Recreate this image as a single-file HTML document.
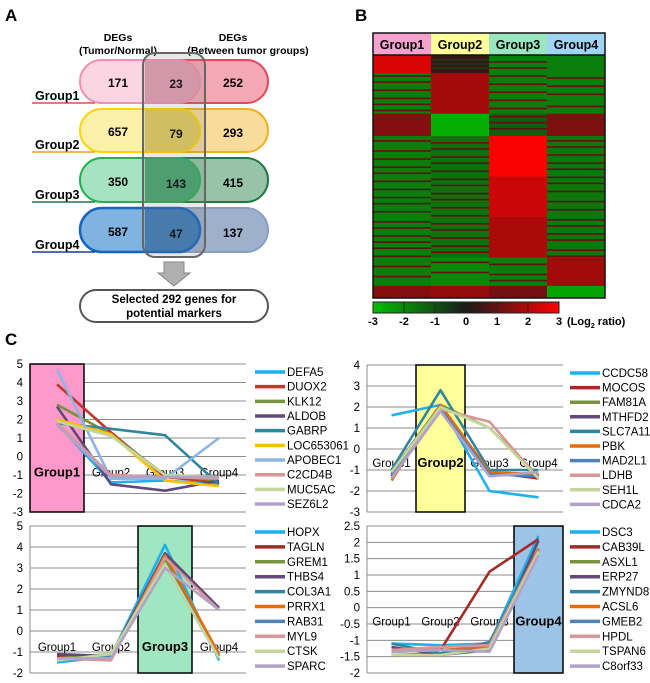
<!DOCTYPE html>
<html><head><meta charset="utf-8"><style>
body{margin:0;background:#fff;width:650px;height:683px;overflow:hidden;font-family:"Liberation Sans",Arial,sans-serif}
svg{position:absolute;left:0;top:0}
text{font-family:"Liberation Sans",Arial,sans-serif}
</style></head><body>
<svg id="fig" width="650" height="683" viewBox="0 0 650 683" xmlns="http://www.w3.org/2000/svg">
<defs>
<linearGradient id="cbar" x1="0" x2="1" y1="0" y2="0">
<stop offset="0" stop-color="#00c000"/><stop offset="0.5" stop-color="#1a1a1a"/><stop offset="1" stop-color="#ff0000"/>
</linearGradient>
<clipPath id="cl1"><rect x="80" y="60" width="120" height="43" rx="21.5"/></clipPath>
<clipPath id="cl2"><rect x="80" y="109" width="120" height="43" rx="21.5"/></clipPath>
<clipPath id="cl3"><rect x="80" y="158" width="120" height="44" rx="22"/></clipPath>
<clipPath id="cl4"><rect x="80" y="208" width="120" height="44" rx="22"/></clipPath>
</defs>
<!-- Panel A -->
<g>
<text x="5" y="21" font-size="17" font-weight="bold">A</text>
<text x="118" y="41" font-size="10.5" font-weight="bold" text-anchor="middle">DEGs</text>
<text x="118" y="54" font-size="10.5" font-weight="bold" text-anchor="middle">(Tumor/Normal)</text>
<text x="233" y="41" font-size="10.5" font-weight="bold" text-anchor="middle">DEGs</text>
<text x="248" y="54" font-size="10.5" font-weight="bold" text-anchor="middle">(Between tumor groups)</text>

<g>
<rect x="145" y="60" width="123" height="43" rx="21.5" fill="#f4a9b5" stroke="#e8485a" stroke-width="2"/>
<rect x="80" y="60" width="120" height="43" rx="21.5" fill="#fbd5e2"/>
<rect x="145" y="58" width="60" height="50" fill="#e59db3" clip-path="url(#cl1)"/>
<rect x="80" y="60" width="120" height="43" rx="21.5" fill="none" stroke="#f48fb1" stroke-width="2"/>
<line x1="32" y1="103" x2="95" y2="103" stroke="#e8485a" stroke-width="1.5"/>
<text x="35" y="100" font-size="12.5" font-weight="bold">Group1</text>
<text x="118" y="87" font-size="12" font-weight="bold" text-anchor="middle">171</text>
<text x="176" y="88" font-size="12" font-weight="bold" text-anchor="middle">23</text>
<text x="233" y="87" font-size="12" font-weight="bold" text-anchor="middle">252</text>
</g>
<g>
<rect x="145" y="109" width="123" height="43" rx="21.5" fill="#f8dc9c" stroke="#f0b020" stroke-width="2"/>
<rect x="80" y="109" width="120" height="43" rx="21.5" fill="#fdf0a8"/>
<rect x="145" y="107" width="60" height="50" fill="#e3cc5c" clip-path="url(#cl2)"/>
<rect x="80" y="109" width="120" height="43" rx="21.5" fill="none" stroke="#ffd400" stroke-width="2"/>
<line x1="32" y1="152" x2="95" y2="152" stroke="#f0a020" stroke-width="1.5"/>
<text x="35" y="149" font-size="12.5" font-weight="bold">Group2</text>
<text x="118" y="136" font-size="12" font-weight="bold" text-anchor="middle">657</text>
<text x="176" y="138" font-size="12" font-weight="bold" text-anchor="middle">79</text>
<text x="233" y="137" font-size="12" font-weight="bold" text-anchor="middle">293</text>
</g>
<g>
<rect x="145" y="158" width="123" height="44" rx="22" fill="#97c4a6" stroke="#1e7a44" stroke-width="2"/>
<rect x="80" y="158" width="120" height="44" rx="22" fill="#a6e3c0"/>
<rect x="145" y="156" width="60" height="50" fill="#45a56e" clip-path="url(#cl3)"/>
<rect x="80" y="158" width="120" height="44" rx="22" fill="none" stroke="#22b14c" stroke-width="2"/>
<line x1="32" y1="202" x2="95" y2="202" stroke="#1e7a44" stroke-width="1.5"/>
<text x="35" y="199" font-size="12.5" font-weight="bold">Group3</text>
<text x="118" y="186" font-size="12" font-weight="bold" text-anchor="middle">350</text>
<text x="176" y="188" font-size="12" font-weight="bold" text-anchor="middle">143</text>
<text x="233" y="187" font-size="12" font-weight="bold" text-anchor="middle">415</text>
</g>
<g>
<rect x="145" y="208" width="123" height="44" rx="22" fill="#9fb0cc" stroke="#8aa0c0" stroke-width="2"/>
<rect x="80" y="208" width="120" height="44" rx="22" fill="#7fb3e0"/>
<rect x="145" y="206" width="60" height="50" fill="#3a7ab5" clip-path="url(#cl4)"/>
<rect x="80" y="208" width="120" height="44" rx="22" fill="none" stroke="#1565c0" stroke-width="2.5"/>
<line x1="32" y1="252" x2="95" y2="252" stroke="#1a3f8f" stroke-width="1.5"/>
<text x="35" y="249" font-size="12.5" font-weight="bold">Group4</text>
<text x="118" y="236" font-size="12" font-weight="bold" text-anchor="middle">587</text>
<text x="176" y="238" font-size="12" font-weight="bold" text-anchor="middle">47</text>
<text x="233" y="237" font-size="12" font-weight="bold" text-anchor="middle">137</text>
</g>
<rect x="143" y="53" width="62" height="204" rx="12" fill="#808080" fill-opacity="0.18" stroke="#666" stroke-width="2"/>
<polygon points="164,262 184,262 184,273 190,273 174,286 158,273 164,273" fill="#b0b0b0" stroke="#888" stroke-width="1"/>
<rect x="80" y="290" width="188" height="32" rx="16" fill="#fff" stroke="#555" stroke-width="2"/>
<text x="174" y="303" font-size="11.5" font-weight="bold" text-anchor="middle">Selected 292 genes for</text>
<text x="174" y="317" font-size="11.5" font-weight="bold" text-anchor="middle">potential markers</text>
</g>

<!-- Panel B -->
<g>
<text x="355" y="21" font-size="17" font-weight="bold">B</text>
<rect x="373" y="33" width="58" height="22" fill="#f7a1cf"/>
<rect x="431" y="33" width="58" height="22" fill="#ffff99"/>
<rect x="489" y="33" width="58" height="22" fill="#99e6c0"/>
<rect x="547" y="33" width="58" height="22" fill="#a0d4f5"/>
<text x="402" y="49" font-size="12.5" font-weight="bold" text-anchor="middle">Group1</text>
<text x="460" y="49" font-size="12.5" font-weight="bold" text-anchor="middle">Group2</text>
<text x="518" y="49" font-size="12.5" font-weight="bold" text-anchor="middle">Group3</text>
<text x="576" y="49" font-size="12.5" font-weight="bold" text-anchor="middle">Group4</text>
<g id="heat"></g>
<rect x="373" y="33" width="232" height="265" fill="none" stroke="#111" stroke-width="1.5"/>
<line x1="373" y1="55" x2="605" y2="55" stroke="#111" stroke-width="1.5"/>
<rect x="373" y="302" width="186" height="11" fill="url(#cbar)" stroke="#222" stroke-width="1"/>
<g id="cbticks"></g>
</g>

<text x="5" y="345" font-size="17" font-weight="bold">C</text>
<g id="charts"></g>
</svg>
<script>
// ---------- Heatmap data ----------
const heatGroups = ["Group1","Group2","Group3","Group4"];
const heatSegStart = [0, 9, 29, 40, 60, 80, 100, 114];
const heatSegEnd   = [9, 29, 40, 60, 80, 100, 114, 120];
const heatSegG1 = [2.5, -1.8, 1.4, -1.8, -1.8, -1.8, -1.8, 1.4];
const heatSegG2 = [0.4, 1.8, -2.7, -1.6, -1.6, -1.6, -2.0, 1.6];
const heatSegG3 = [-1.8, -1.8, -1.2, 2.9, 2.3, 1.9, -1.8, 1.2];
const heatSegG4 = [-1.8, -1.8, 1.3, -1.7, -1.7, -1.7, 1.8, -2.5];
const heatStripeG1 = [10,13,17,21,24,27,42,47,51,55,58,62,66,70,73,77,82,85,89,92,95,99,104,109];
const heatStripeG2 = [2,4,6,43,46,50,53,57,61,64,68,71,75,79,83,86,90,94,97,102,107];
const heatStripeG3 = [3,6,10,14,18,22,26,30,33,36,103,108,111];
const heatStripeG4 = [11,15,19,25,42,45,49,53,56,60,63,67,72,76,81,84,88,91,96,99];
const heatRowsTotal = 120;

const SVGNS = "http://www.w3.org/2000/svg";
function mk(tag, attrs, parent){const e=document.createElementNS(SVGNS,tag);for(const k in attrs)e.setAttribute(k,attrs[k]);parent.appendChild(e);return e;}
function heatColor(v){
  const t=Math.min(Math.abs(v)/3,1);
  const base=26;
  const hi=Math.round(base+(255-base)*t);
  const lo=Math.round(base*(1-t));
  return v>=0?`rgb(${hi},${lo},${lo})`:`rgb(${lo},${Math.round(base+(192-base)*t)},${lo})`;
}
(function(){
  const g=document.getElementById('heat');
  const top=55, bottom=298, left=373, colW=58;
  const rowH=(bottom-top)/heatRowsTotal;
  const segs=[heatSegG1,heatSegG2,heatSegG3,heatSegG4];
  const stripes=[heatStripeG1,heatStripeG2,heatStripeG3,heatStripeG4];
  for(let c=0;c<4;c++){
    for(let s=0;s<heatSegStart.length;s++){
      const r=mk('rect',{x:left+c*colW,y:top+heatSegStart[s]*rowH,width:colW,height:(heatSegEnd[s]-heatSegStart[s])*rowH+0.3,fill:heatColor(segs[c][s])},g);
      
      
    }
    stripes[c].forEach(row=>{
      let s=0;while(s<heatSegEnd.length-1&&row>=heatSegEnd[s])s++;
      const v=segs[c][s];
      const sv=v<0?0.9:-0.6;
      const r=mk('rect',{x:left+c*colW,y:top+row*rowH,width:colW,height:rowH*0.8,fill:heatColor(sv)},g);
      
      
    });
  }
  // color bar ticks
  const cb=document.getElementById('cbticks');
  const cbVals=["-3","-2","-1","0","1","2","3"];
  cbVals.forEach((t,i)=>{
    const x=373+i*186/6;
    if(i>0&&i<6) mk('line',{x1:x,y1:302,x2:x,y2:313,stroke:'#222','stroke-width':0.8},cb);
    const tx=mk('text',{x:x,y:325,'font-size':11,'font-weight':'bold','text-anchor':'middle'},cb);
    tx.textContent=t;
    
    
  });
  const lt=mk('text',{x:567,y:325,'font-size':11,'font-weight':'bold'},cb);
  lt.innerHTML='(Log<tspan font-size="7" dy="3">2</tspan><tspan dy="-3"> ratio)</tspan>';
  
  
})();

// ---------- Line chart data ----------
const categories = ["Group1","Group2","Group3","Group4"];
const c1Genes = ["DEFA5","DUOX2","KLK12","ALDOB","GABRP","LOC653061","APOBEC1","C2CD4B","MUC5AC","SEZ6L2"];
const c1Ticks = [5,4,3,2,1,0,-1,-2,-3];
const c1Values = [
 [1.8,-1.4,-1.3,-1.5],
 [3.9,1.3,-1.1,-1.4],
 [2.8,1.2,-1.0,-1.3],
 [2.7,-1.5,-1.85,-1.3],
 [1.8,1.5,1.15,-1.5],
 [2.0,1.2,-1.3,-1.6],
 [4.7,-1.2,-1.2,1.0],
 [1.8,-1.0,-1.1,-1.2],
 [1.9,1.1,-1.0,-1.1],
 [1.7,-1.1,-1.1,-1.1]
];
const c2Genes = ["CCDC58","MOCOS","FAM81A","MTHFD2","SLC7A11","PBK","MAD2L1","LDHB","SEH1L","CDCA2"];
const c2Ticks = [4,3,2,1,0,-1,-2,-3];
const c2Values = [
 [1.6,2.1,-2.0,-2.3],
 [-1.2,2.0,-1.1,-1.4],
 [-1.1,2.1,1.0,-1.3],
 [-1.3,1.9,-1.2,-1.2],
 [-1.0,2.8,-1.0,-1.0],
 [-1.5,2.1,-1.1,-1.2],
 [-1.2,1.9,-1.2,-1.3],
 [-1.4,1.9,1.3,-1.4],
 [-1.1,2.0,1.0,-1.4],
 [-1.4,1.8,-1.3,-1.1]
];
const c3Genes = ["HOPX","TAGLN","GREM1","THBS4","COL3A1","PRRX1","RAB31","MYL9","CTSK","SPARC"];
const c3Ticks = [5,4,3,2,1,0,-1,-2];
const c3Values = [
 [-1.5,-1.2,4.1,-1.4],
 [-1.2,-1.3,3.7,1.1],
 [-1.3,-1.1,3.4,-1.2],
 [-1.1,-1.2,3.7,1.1],
 [-1.3,-1.3,3.6,-1.2],
 [-1.3,-1.3,3.6,-1.1],
 [-1.4,-1.2,3.2,-1.3],
 [-1.3,-1.4,3.5,1.0],
 [-1.4,-1.1,3.2,-1.3],
 [-1.3,-1.3,3.0,1.0]
];
const c4Genes = ["DSC3","CAB39L","ASXL1","ERP27","ZMYND8","ACSL6","GMEB2","HPDL","TSPAN6","C8orf33"];
const c4Ticks = [2.5,2,1.5,1,0.5,0,-0.5,-1,-1.5,-2];
const c4Values = [
 [-1.1,-1.15,-1.1,2.2],
 [-1.3,-1.3,1.1,2.1],
 [-1.45,-1.4,-1.2,1.8],
 [-1.2,-1.45,-1.3,2.05],
 [-1.1,-1.4,-1.05,1.8],
 [-1.35,-1.3,-1.2,1.8],
 [-1.3,-1.3,-1.3,1.7],
 [-1.3,-1.2,-1.15,1.75],
 [-1.45,-1.45,-1.25,1.7],
 [-1.35,-1.3,-1.35,1.6]
];

const palA=["#1fb0ef","#c0392b","#77933c","#604a7b","#31859c","#ffc000","#8eb4e3","#d99694","#c3d69b","#b3a2c7"];
const palB=["#1fb0ef","#a52a2a","#77933c","#604a7b","#31859c","#e46c0a","#4f81bd","#d99694","#c3d69b","#b3a2c7"];

function drawChart(cfg){
  const root=document.getElementById('charts');
  const g=mk('g',{},root);
  
  
  const ymax=cfg.ticks[0], ymin=cfg.ticks[cfg.ticks.length-1];
  const yS=v=>cfg.top+(ymax-v)/(ymax-ymin)*(cfg.bottom-cfg.top);
  const cw=(cfg.right-cfg.left)/categories.length;
  const xS=i=>cfg.left+cw*(i+0.5);
  // gridlines & tick labels
  cfg.ticks.forEach(t=>{
    mk('line',{x1:cfg.left,y1:yS(t),x2:cfg.right,y2:yS(t),stroke:'#8c8c8c','stroke-width':1},g);
    const tx=mk('text',{x:cfg.left-7,y:yS(t)+4,'font-size':11.5,'text-anchor':'end'},g);
    tx.textContent=String(t);
    
    
  });
  mk('line',{x1:cfg.left,y1:cfg.top,x2:cfg.left,y2:cfg.bottom,stroke:'#8c8c8c','stroke-width':1},g);
  // highlight box
  const hb=mk('rect',{x:cfg.left+cw*cfg.hi,y:cfg.top,width:cw,height:cfg.bottom-cfg.top,fill:cfg.hiColor,stroke:'#000','stroke-width':1.5},g);
  
  
  // category labels
  categories.forEach((c,i)=>{
    const tx=mk('text',{x:xS(i),y:yS(0)+cfg.labOff,'font-size':i===cfg.hi?13:11.5,'font-weight':i===cfg.hi?'bold':'normal','text-anchor':'middle'},g);
    tx.textContent=c;
    
    
  });
  // lines
  cfg.values.forEach((vals,s)=>{
    const pts=vals.map((v,i)=>xS(i).toFixed(1)+','+yS(v).toFixed(1)).join(' ');
    const pl=mk('polyline',{points:pts,fill:'none',stroke:cfg.pal[s],'stroke-width':2.6,'stroke-linejoin':'round'},g);
    
    
  });
  // legend
  cfg.genes.forEach((gn,s)=>{
    const y=cfg.legTop+s*cfg.legStep;
    const ln=mk('line',{x1:cfg.legX,y1:y,x2:cfg.legX+30,y2:y,stroke:cfg.pal[s],'stroke-width':3.5},g);
    
    
    const tx=mk('text',{x:cfg.legX+32,y:y+4,'font-size':11.5},g);
    tx.textContent=gn;
    
    
  });
}
drawChart({name:'chart-group1-markers',genes:c1Genes,values:c1Values,ticks:c1Ticks,pal:palA,left:30,right:246,top:364,bottom:512,hi:0,hiColor:'#ff99cc',labOff:20,legX:255,legTop:372,legStep:14.67});
drawChart({name:'chart-group2-markers',genes:c2Genes,values:c2Values,ticks:c2Ticks,pal:palB,left:367,right:563,top:365,bottom:512,hi:1,hiColor:'#ffff99',labOff:18,legX:570,legTop:373,legStep:14.6});
drawChart({name:'chart-group3-markers',genes:c3Genes,values:c3Values,ticks:c3Ticks,pal:palB,left:30,right:246,top:526,bottom:673,hi:2,hiColor:'#a0e6c0',labOff:20,legX:255,legTop:532,legStep:14.9});
drawChart({name:'chart-group4-markers',genes:c4Genes,values:c4Values,ticks:c4Ticks,pal:palB,left:367,right:563,top:526,bottom:673,hi:3,hiColor:'#9dc3e6',labOff:18,legX:570,legTop:532,legStep:14.9});
</script>
</body></html>
